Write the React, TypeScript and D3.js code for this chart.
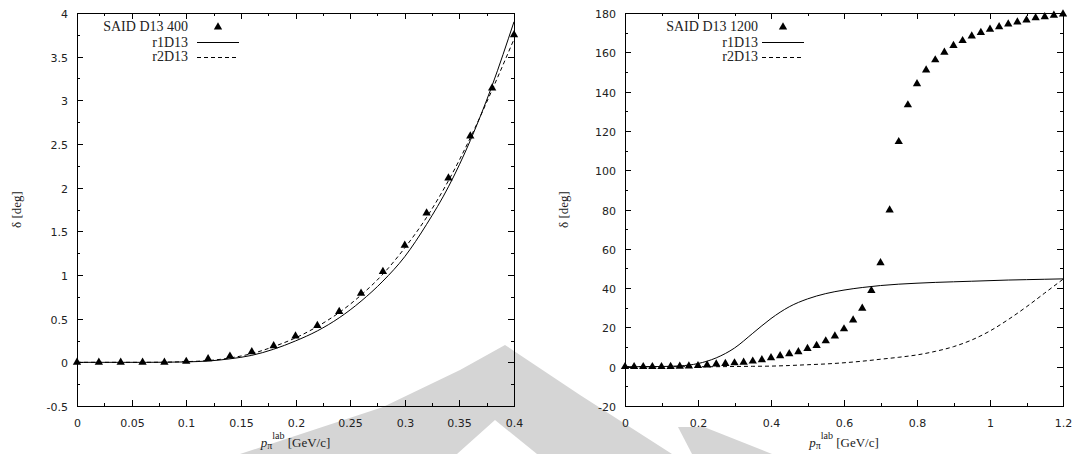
import React from "react";
import * as d3 from "d3";

// ---------- Left panel data (SAID D13 400) ----------
const leftSaidX = [0, 0.02, 0.04, 0.06, 0.08, 0.1, 0.12, 0.14, 0.16, 0.18, 0.2, 0.22, 0.24, 0.26, 0.28, 0.3, 0.32, 0.34, 0.36, 0.38, 0.4];
const leftSaidY = [0, 0, 0, 0, 0, 0.01, 0.04, 0.07, 0.12, 0.19, 0.3, 0.42, 0.58, 0.79, 1.04, 1.34, 1.71, 2.11, 2.59, 3.14, 3.75];
const leftCurveX = [0, 0.02, 0.04, 0.06, 0.08, 0.1, 0.12, 0.14, 0.16, 0.18, 0.2, 0.22, 0.24, 0.26, 0.28, 0.3, 0.32, 0.34, 0.36, 0.38, 0.4];
const leftR1 = [0, 0, 0, 0, 0.001, 0.005, 0.015, 0.04, 0.08, 0.15, 0.245, 0.36, 0.51, 0.7, 0.93, 1.21, 1.58, 2.01, 2.54, 3.17, 3.9];
const leftR2 = [0, 0, 0, 0, 0.002, 0.008, 0.02, 0.05, 0.1, 0.18, 0.28, 0.41, 0.57, 0.77, 1.01, 1.31, 1.66, 2.08, 2.57, 3.12, 3.7];
const leftXTicks = [0, 0.05, 0.1, 0.15, 0.2, 0.25, 0.3, 0.35, 0.4];
const leftXTickLabels = ["0", "0.05", "0.1", "0.15", "0.2", "0.25", "0.3", "0.35", "0.4"];
const leftYTicks = [-0.5, 0, 0.5, 1, 1.5, 2, 2.5, 3, 3.5, 4];
const leftYTickLabels = ["-0.5", "0", "0.5", "1", "1.5", "2", "2.5", "3", "3.5", "4"];

// ---------- Right panel data (SAID D13 1200) ----------
const rightSaidX = [0, 0.025, 0.05, 0.075, 0.1, 0.125, 0.15, 0.175, 0.2, 0.225, 0.25, 0.275, 0.3, 0.325, 0.35, 0.375, 0.4, 0.425, 0.45, 0.475, 0.5, 0.525, 0.55, 0.575, 0.6, 0.625, 0.65, 0.675, 0.7, 0.725, 0.75, 0.775, 0.8, 0.825, 0.85, 0.875, 0.9, 0.925, 0.95, 0.975, 1.0, 1.025, 1.05, 1.075, 1.1, 1.125, 1.15, 1.175, 1.2];
const rightSaidY = [0, 0, 0, 0, 0, 0.1, 0.2, 0.3, 0.5, 0.8, 1.3, 1.6, 1.9, 2.2, 2.8, 3.5, 4.5, 5.5, 6.6, 7.6, 9.2, 10.7, 13.1, 15.6, 19.2, 23.7, 29.7, 38.7, 52.9, 79.7, 114.5, 133.2, 144, 151, 156.1, 160, 163.4, 165.9, 168.3, 170, 171.7, 173, 174.4, 175.4, 176.4, 177.5, 178.1, 178.8, 179.5];
const rightCurveX = [0, 0.05, 0.1, 0.15, 0.2, 0.25, 0.3, 0.35, 0.4, 0.45, 0.5, 0.55, 0.6, 0.65, 0.7, 0.75, 0.8, 0.85, 0.9, 0.95, 1.0, 1.05, 1.1, 1.15, 1.2];
const rightR1 = [0, 0, 0.1, 0.4, 1.6, 4.5, 9.5, 17, 24.5, 30.5, 34.5, 37.2, 39, 40.3, 41.3, 42, 42.5, 42.9, 43.2, 43.5, 43.8, 44.1, 44.3, 44.5, 44.7];
const rightR2 = [0, 0, 0, 0, 0, 0, 0.1, 0.2, 0.3, 0.6, 1.0, 1.4, 2.0, 2.8, 3.8, 4.8, 6.0, 7.8, 10.2, 13.6, 18.2, 24, 30.5, 37.5, 44.5];
const rightXTicks = [0, 0.2, 0.4, 0.6, 0.8, 1, 1.2];
const rightXTickLabels = ["0", "0.2", "0.4", "0.6", "0.8", "1", "1.2"];
const rightYTicks = [-20, 0, 20, 40, 60, 80, 100, 120, 140, 160, 180];
const rightYTickLabels = ["-20", "0", "20", "40", "60", "80", "100", "120", "140", "160", "180"];

const seriesNames = ["r1D13", "r2D13"];

const TICK_FONT = "'DejaVu Sans', sans-serif";
const SERIF = "'Liberation Serif', 'DejaVu Serif', serif";

type PanelProps = {
  x0: number; x1: number; y0: number; y1: number;
  xDomain: [number, number]; yDomain: [number, number];
  xTicks: number[]; xTickLabels: string[]; xMinorStep: number;
  yTicks: number[]; yTickLabels: string[]; yMinorStep: number;
  saidX: number[]; saidY: number[]; saidLabel: string;
  curveX: number[]; r1: number[]; r2: number[];
  legendTextX: number; legendSampleX: number;
  yLabelX: number;
};

function Panel(p: PanelProps) {
  const xs = d3.scaleLinear().domain(p.xDomain).range([p.x0, p.x1]);
  const ys = d3.scaleLinear().domain(p.yDomain).range([p.y1, p.y0]);
  const xMinor = d3.range(p.xDomain[0], p.xDomain[1] + 1e-9, p.xMinorStep);
  const yMinor = d3.range(p.yDomain[0], p.yDomain[1] + 1e-9, p.yMinorStep);
  const line = d3.line<number>()
    .x((_, i) => xs(p.curveX[i]))
    .curve(d3.curveMonotoneX);
  const r1Path = line.y((d) => ys(d))(p.r1) || "";
  const r2Path = line.y((d) => ys(d))(p.r2) || "";
  const tri = d3.symbol(d3.symbolTriangle, 30)() || "";
  const MAJ = 6, MIN = 3;
  const lx = p.legendSampleX;
  return (
    <g>
      <path d={r1Path} fill="none" stroke="#000" strokeWidth={1} />
      <path d={r2Path} fill="none" stroke="#000" strokeWidth={1} strokeDasharray="4,3" />
      {p.saidX.map((x, i) => (
        <path key={i} d={tri} transform={`translate(${xs(x)},${ys(p.saidY[i])})`} fill="#000" />
      ))}
      <rect x={p.x0 + 0.5} y={p.y0 + 0.5} width={p.x1 - p.x0} height={p.y1 - p.y0} fill="none" stroke="#000" strokeWidth={1} />
      {xMinor.map((v, i) => {
        const X = Math.round(xs(v)) + 0.5;
        return (
          <g key={"xm" + i}>
            <line x1={X} x2={X} y1={p.y1} y2={p.y1 - MIN} stroke="#000" />
            <line x1={X} x2={X} y1={p.y0} y2={p.y0 + MIN} stroke="#000" />
          </g>
        );
      })}
      {yMinor.map((v, i) => {
        const Y = Math.round(ys(v)) + 0.5;
        return (
          <g key={"ym" + i}>
            <line x1={p.x0} x2={p.x0 + MIN} y1={Y} y2={Y} stroke="#000" />
            <line x1={p.x1} x2={p.x1 - MIN} y1={Y} y2={Y} stroke="#000" />
          </g>
        );
      })}
      {p.xTicks.map((v, i) => {
        const X = Math.round(xs(v)) + 0.5;
        return (
          <g key={"xM" + i}>
            <line x1={X} x2={X} y1={p.y1} y2={p.y1 - MAJ} stroke="#000" />
            <line x1={X} x2={X} y1={p.y0} y2={p.y0 + MAJ} stroke="#000" />
            <text x={X} y={p.y1 + 21} textAnchor="middle" fontFamily={TICK_FONT} fontSize={11} fill="#222">{p.xTickLabels[i]}</text>
          </g>
        );
      })}
      {p.yTicks.map((v, i) => {
        const Y = Math.round(ys(v)) + 0.5;
        return (
          <g key={"yM" + i}>
            <line x1={p.x0} x2={p.x0 + MAJ} y1={Y} y2={Y} stroke="#000" />
            <line x1={p.x1} x2={p.x1 - MAJ} y1={Y} y2={Y} stroke="#000" />
            <text x={p.x0 - 9} y={Y + 4} textAnchor="end" fontFamily={TICK_FONT} fontSize={11} fill="#222">{p.yTickLabels[i]}</text>
          </g>
        );
      })}
      <text transform={`translate(${p.yLabelX},${(p.y0 + p.y1) / 2}) rotate(-90)`} textAnchor="middle" fontFamily={SERIF} fontSize={13} fill="#222">δ [deg]</text>
      <text x={(p.x0 + p.x1) / 2} y={447} textAnchor="middle" fontFamily={SERIF} fontSize={13} fill="#222">
        <tspan fontStyle="italic">p</tspan>
        <tspan fontSize={10} dy={2}>π</tspan>
        <tspan fontSize={10} dy={-10}>lab</tspan>
        <tspan dy={8}> [GeV/c]</tspan>
      </text>
      <text x={p.legendTextX} y={31} textAnchor="end" fontFamily={SERIF} fontSize={14} fill="#222">{p.saidLabel}</text>
      <path d={tri} transform={`translate(${lx + 21},${27})`} fill="#000" />
      <text x={p.legendTextX} y={47} textAnchor="end" fontFamily={SERIF} fontSize={14} fill="#222">{seriesNames[0]}</text>
      <line x1={lx} x2={lx + 42} y1={42.5} y2={42.5} stroke="#000" />
      <text x={p.legendTextX} y={61} textAnchor="end" fontFamily={SERIF} fontSize={14} fill="#222">{seriesNames[1]}</text>
      <line x1={lx} x2={lx + 42} y1={57.5} y2={57.5} stroke="#000" strokeDasharray="4,3" />
    </g>
  );
}

export default function App() {
  return (
    <svg width={1075} height={454} style={{ position: "absolute", left: 0, top: 0, background: "#fff" }}>
      <rect x={0} y={0} width={1075} height={454} fill="#fff" />
      <g fill="#d5d5d5">
        <polygon points="240,454 383,407 460,370 505,345 580,395 672,454" />
        <polygon points="678,427 704,427 772,454 692,454" />
      </g>
      <polygon points="457,454 495,420 537,454" fill="#fff" />
      <Panel
        x0={77} x1={514} y0={13} y1={406}
        xDomain={[0, 0.4]} yDomain={[-0.5, 4]}
        xTicks={leftXTicks} xTickLabels={leftXTickLabels} xMinorStep={0.025}
        yTicks={leftYTicks} yTickLabels={leftYTickLabels} yMinorStep={0.25}
        saidX={leftSaidX} saidY={leftSaidY} saidLabel="SAID D13 400"
        curveX={leftCurveX} r1={leftR1} r2={leftR2}
        legendTextX={188} legendSampleX={197}
        yLabelX={21}
      />
      <Panel
        x0={625} x1={1063} y0={13} y1={406}
        xDomain={[0, 1.2]} yDomain={[-20, 180]}
        xTicks={rightXTicks} xTickLabels={rightXTickLabels} xMinorStep={0.1}
        yTicks={rightYTicks} yTickLabels={rightYTickLabels} yMinorStep={10}
        saidX={rightSaidX} saidY={rightSaidY} saidLabel="SAID D13 1200"
        curveX={rightCurveX} r1={rightR1} r2={rightR2}
        legendTextX={758} legendSampleX={762}
        yLabelX={568}
      />
    </svg>
  );
}
